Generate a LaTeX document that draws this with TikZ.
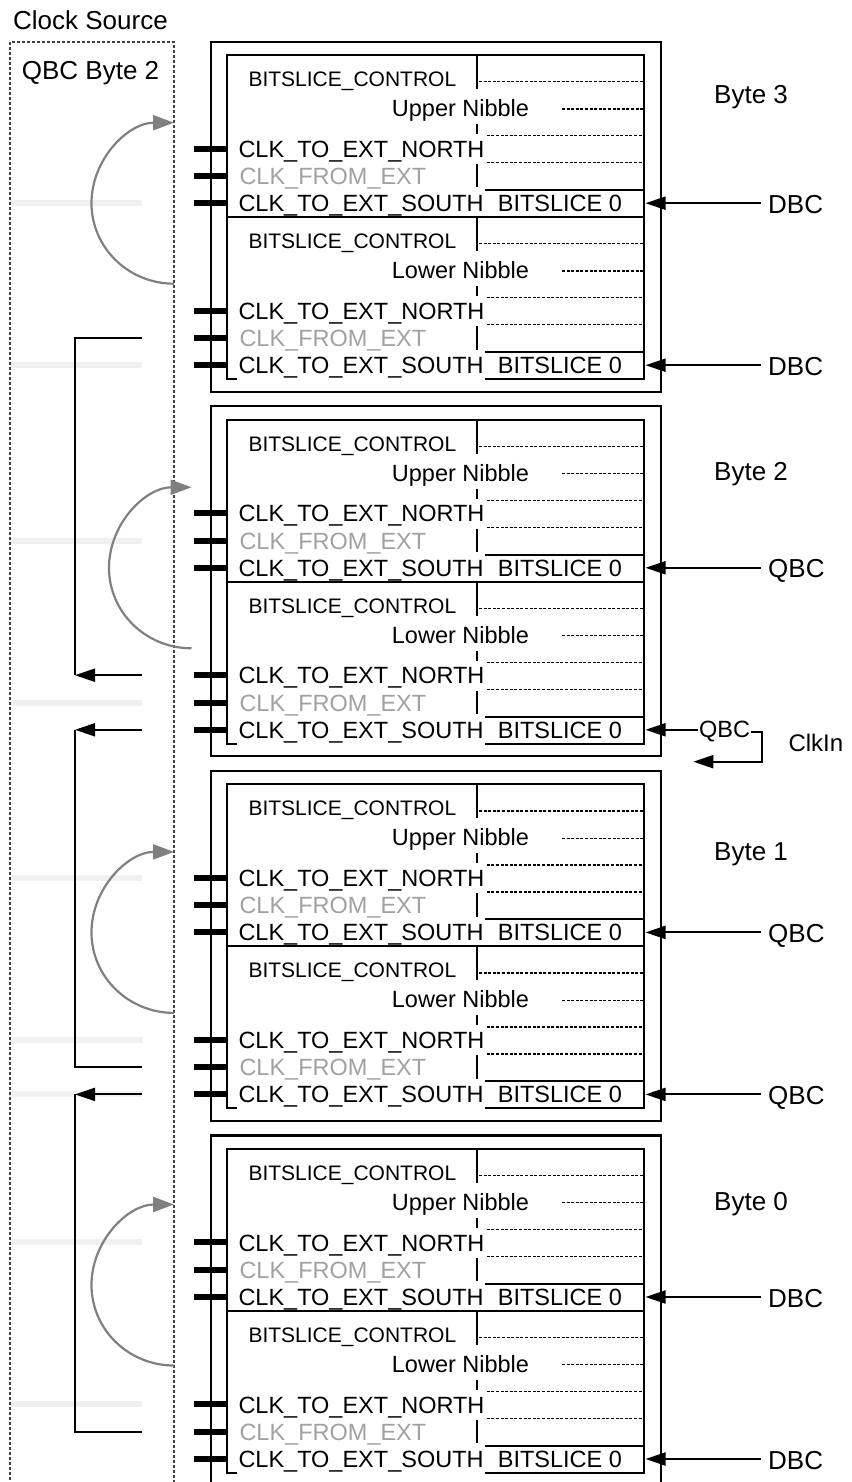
\documentclass[tikz,border=0pt]{standalone}
\usepackage{fontspec}
\setmainfont{Liberation Sans}
\usetikzlibrary{arrows.meta}
\newcommand{\fclk}{\fontsize{23.5pt}{28pt}\selectfont}
\newcommand{\fctl}{\fontsize{21pt}{25pt}\selectfont}
\newcommand{\fbig}{\fontsize{26pt}{31pt}\selectfont}
\newcommand{\fkin}{\fontsize{24pt}{28pt}\selectfont}

\begin{document}
\begin{tikzpicture}[x=1pt, y=-1pt,
  >={Triangle[length=20pt,width=13pt]},
  wall/.style={line width=2.2pt},
  dots/.style={line width=1.3pt, dash pattern=on 3pt off 1.6pt},
  stub/.style={line width=6pt},
  link/.style={line width=2pt},
  swing/.style={line width=2.2pt, draw=black!50, >={Triangle[length=21pt,width=15pt]}, <-},
  ghost/.style={line width=6pt, draw=black!6},
  fence/.style={line width=1.2pt, draw=black!75, dash pattern=on 3pt off 2pt},
  lbl/.style={inner sep=0pt, anchor=base west},
  src/.style={inner xsep=7pt, inner ysep=0pt, anchor=base west, font=\fbig}]
  \useasboundingbox (0,0) rectangle (851,1482);
  \clip (0,0) rectangle (851,1482);

  % Clock source column
  \foreach \y in {203.2, 365.2, 540.6, 702.6, 877.8, 1039.8, 1094.4, 1242.4, 1404.4}
    \draw[ghost] (10,\y) -- (142.3,\y);
  \draw[fence] (10,1500) -- (10,42) -- (174,42) -- (174,1500);
  \node[lbl, font=\fbig] (clksrc) at (13,29.3) {Clock Source};
  \node[lbl, font=\fbig] (qbcsrc) at (21.7,80) {QBC Byte 2};

  % Byte frames
  \foreach \k/\bn/\ly/\srcup/\srclo in {0/3/104/DBC/DBC, 1/2/480.3/QBC/QBC, 2/1/860.3/QBC/QBC, 3/0/1210/DBC/DBC} {
    \pgfmathsetmacro\Y{364.6*\k}
    \draw[wall] (210.7,41.7+\Y) rectangle (661,391.7+\Y);
    \draw[wall] (237.3,379+\Y) -- (227,379+\Y) -- (227,55+\Y) -- (644.3,55+\Y) -- (644.3,379+\Y) -- (485,379+\Y);
    \draw[wall] (227,217+\Y) -- (644.3,217+\Y);
    \node[lbl, font=\fbig] (byte\k) at (714,\ly) {Byte \bn};
    \foreach \n/\half/\lab in {0/Upper/\srcup, 1/Lower/\srclo} {
      \pgfmathsetmacro\T{55+\Y+162*\n}
      % divider and slice rows
      \draw[wall] (477.3,\T) -- (477.3,\T+34);
      \draw[wall] (477.3,\T+69) -- (477.3,\T+79);
      \draw[wall] (477.3,\T+109) -- (477.3,\T+132.5);
      \draw[wall] (485,\T+135) -- (644.3,\T+135);
      \draw[dots] (479,\T+26.7) -- (644.3,\T+26.7);
      \draw[dots] (562,\T+54) -- (644.3,\T+54);
      \draw[dots] (486.7,\T+80.7) -- (644.3,\T+80.7);
      \draw[dots] (486.7,\T+107.7) -- (644.3,\T+107.7);
      % labels
      \node[lbl, font=\fctl] (ctl\k\n) at (248.3,\T+31.7) {BITSLICE\_CONTROL};
      \node[lbl, font=\fclk] (nib\k\n) at (391.7,\T+61.7) {\half{} Nibble};
      \node[lbl, font=\fclk] (north\k\n) at (238.3,\T+102.3) {CLK\_TO\_EXT\_NORTH};
      \node[lbl, font=\fclk, text=black!37] (from\k\n) at (239.3,\T+129.4) {CLK\_FROM\_EXT};
      \node[lbl, font=\fclk] (south\k\n) at (238.3,\T+156.4) {CLK\_TO\_EXT\_SOUTH};
      \node[lbl, font=\fclk] (slice\k\n) at (497.7,\T+156.4) {BITSLICE 0};
      % clock pins
      \coordinate (pn\k\n) at (227,\T+93.6);
      \coordinate (pf\k\n) at (227,\T+121);
      \coordinate (ps\k\n) at (227,\T+148.2);
      \draw[stub] (pn\k\n) -- ++(-33,0);
      \draw[stub] (pf\k\n) -- ++(-33,0);
      \draw[stub] (ps\k\n) -- ++(-33,0);
      % byte clock input
      \coordinate (in\k\n) at (645.5,\T+148.2);
      \pgfmathtruncatemacro\plain{(\k==1 && \n==1) ? 0 : 1}
      \ifnum\plain=1
        \node[src] (feed\k\n) at (761,\T+158.2) {\lab};
        \draw[link,<-] (in\k\n) -- (in\k\n -| feed\k\n.west);
      \fi
    }
  }

  % Local clock in Byte 2
  \node[lbl, inner xsep=1pt, font=\fclk] (qbc) at (698,737.8) {QBC};
  \coordinate (kturn) at (761.7,761.7);
  \coordinate (kin) at (693.3,761.7);
  \draw[link,<-] (in11) -- (in11 -| qbc.west);
  \draw[link,->] (qbc.east) -| (kturn) -- (kin);
  \node[lbl, font=\fkin] (clkin) at (788.3,751.7) {ClkIn};

  % Byte to byte clock routing
  \coordinate (tapa) at (142.3,338);
  \coordinate (hooka) at (75,675.2);
  \coordinate (outa) at (142.3,675.2);
  \draw[link] (tapa) -| (hooka);
  \draw[link,->] (outa) -- (hooka);
  \coordinate (outb) at (142.3,729.8);
  \coordinate (hookb) at (75,729.8);
  \coordinate (tapb) at (142.3,1067.2);
  \draw[link,->] (outb) -- (hookb);
  \draw[link] (hookb) |- (tapb);
  \coordinate (outc) at (142.3,1094.4);
  \coordinate (hookc) at (75,1094.4);
  \coordinate (tapc) at (142.3,1431.8);
  \draw[link,->] (outc) -- (hookc);
  \draw[link] (hookc) |- (tapc);

  % Nibble to nibble loops
  \foreach \k/\cx/\dy in {0/174/0, 1/191.5/0, 2/174/0, 3/174/-12} {
    \pgfmathsetmacro\cy{55+364.6*\k+148.2+\dy}
    \draw[swing] (\cx,\cy-80.5) .. controls (\cx-45.6,\cy-80.5) and (\cx-82.5,\cy-44.5) .. (\cx-82.5,\cy)
      .. controls (\cx-82.5,\cy+44.5) and (\cx-45.6,\cy+80.5) .. (\cx,\cy+80.5);
  }
\end{tikzpicture}
\end{document}
